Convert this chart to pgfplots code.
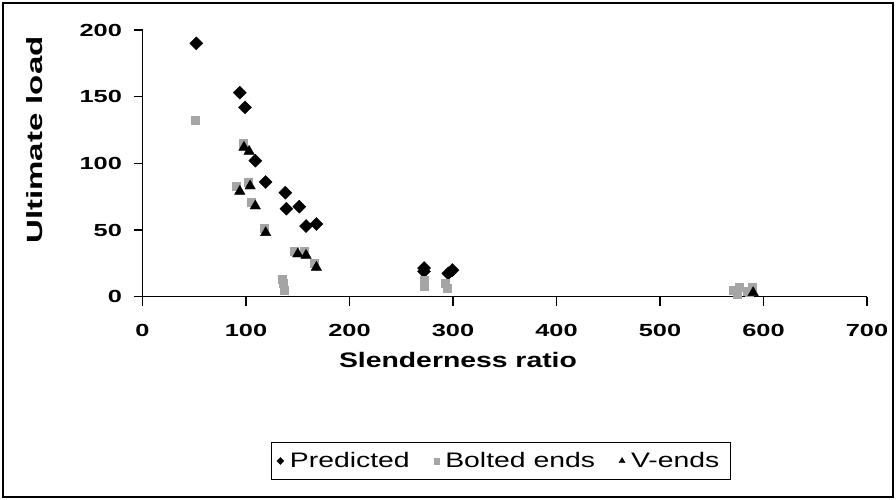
\documentclass[border=0pt]{standalone}
\usepackage{pgfplots}
\pgfplotsset{compat=1.18}
\usepackage{fontspec}
\setmainfont{Liberation Sans}
\usepackage{graphicx}
\definecolor{boltgray}{RGB}{165,165,165}
\begin{document}
\begin{tikzpicture}[x=1pt,y=1pt]
\path[use as bounding box] (0,0) rectangle (896,500);
\draw[line width=2pt] (3,3) rectangle (893,497);
\begin{axis}[
  at={(142.5pt,203.3pt)}, anchor=south west,
  scale only axis, width=724.5pt, height=266.7pt,
  xmin=0, xmax=700, ymin=0, ymax=200,
  axis x line*=bottom, axis y line*=left,
  axis line style={line width=1.3pt, black},
  xtick={0,100,...,700}, ytick={0,50,...,200},
  tick align=outside, major tick length=9pt,
  tick style={line width=1.3pt, black},
  ticklabel style={font=\bfseries\fontsize{17.5}{20}\selectfont},
  /pgf/number format/assume math mode=true,
  xticklabel={\scalebox{1.45}[1]{\pgfmathprintnumber{\tick}}},
  yticklabel={\scalebox{1.45}[1]{\pgfmathprintnumber{\tick}}},
  xticklabel style={yshift=-15pt},
  yticklabel style={xshift=-8pt},
  clip=false,
  legend style={at={(axis description cs:0.495,-0.616)}, anchor=center,
    draw=black, line width=1.2pt, legend columns=-1,
    font=\fontsize{21}{24}\selectfont, inner xsep=5pt, inner ysep=5pt,
    nodes={inner xsep=6pt, inner ysep=5pt},
    /tikz/every even column/.append style={column sep=18pt}},
  legend image code/.code={\draw[mark repeat=2,mark phase=2,#1] plot coordinates {(0pt,0pt) (5pt,0pt) (10pt,0pt)};},
  legend image post style={line width=0.4pt},
]
\addplot[only marks, mark=square*, mark size=4.6, mark options={rotate=45, fill=black, draw=black}, forget plot] coordinates {
(52,190) (94,153) (99,142) (109,102) (119,86) (138,78) (139,66) (151.5,67.5) (158,53) (168,54.5)
(272,21.5) (272,19) (295.5,17.5) (299.5,20)
};
\addplot[only marks, mark=square*, mark size=4, mark options={fill=boltgray, draw=boltgray}, forget plot] coordinates {
(51,132) (91,83) (97,115) (102,86) (105,71) (118,51) (135,13) (136,10) (137,5) (147,34) (156,34) (166,25)
(272,12.5) (272,7.5) (292,10) (294,6.5) (571,5) (577,7) (584,4) (589,7) (575,2) (586,3)
};
\addplot[only marks, mark=triangle*, mark size=6, mark options={fill=black, draw=black}, forget plot] coordinates {
(94,79) (98,112) (103,109) (104,83) (109,68) (119,48) (150,32) (158,31) (168,22) (590,3)
};
\addlegendimage{only marks, mark=square*, mark size=2.5, mark options={rotate=45, fill=black, draw=black}}
\addlegendentry{\scalebox{1.35}[1]{Predicted}}
\addlegendimage{only marks, mark=square*, mark size=2.8, mark options={fill=boltgray, draw=boltgray}}
\addlegendentry{\scalebox{1.35}[1]{Bolted ends}}
\addlegendimage{only marks, mark=triangle*, mark size=3.5, mark options={fill=black, draw=black}}
\addlegendentry{\scalebox{1.35}[1]{V-ends}}
\end{axis}
\node[rotate=90, font=\bfseries\fontsize{22}{26}\selectfont] at (35,360) {\scalebox{1.5}[1]{Ultimate load}};
\node[font=\bfseries\fontsize{21}{24}\selectfont] at (458,140) {\scalebox{1.35}[1]{Slenderness ratio}};
\end{tikzpicture}
\end{document}
